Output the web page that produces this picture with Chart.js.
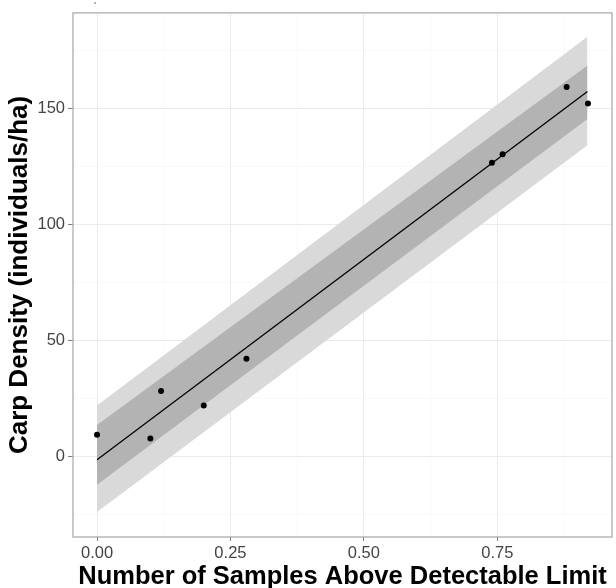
<!DOCTYPE html>
<html>
<head>
<meta charset="utf-8">
<script src="https://cdn.jsdelivr.net/npm/chart.js@4.4.1/dist/chart.umd.min.js"></script>
<style>
  html, body { margin: 0; padding: 0; background: #fff; }
  #wrap { width: 616px; height: 588px; position: relative; }
</style>
</head>
<body>
<div id="wrap"><canvas id="carpChart"></canvas></div>
<script>
// observed samples
const sampleX = [0.00, 0.10, 0.12, 0.20, 0.28, 0.74, 0.76, 0.88, 0.92];
const sampleY = [9.3, 7.7, 28.2, 21.9, 42.1, 126.6, 130.3, 159.3, 152.1];

// fitted line and bands, ends at x = 0 and x = 0.919
const fitX = [0, 0.919];
const fitY = [-1.5, 157.3];
const innerUpper = [13.5, 168.5];
const innerLower = [-12.3, 145.5];
const outerUpper = [21.9, 180.9];
const outerLower = [-24.0, 134.1];

// axis ticks
const xMajor = [0, 0.25, 0.5, 0.75];
const xMinor = [0.125, 0.375, 0.625, 0.875];
const yMajor = [0, 50, 100, 150];
const yMinor = [-25, 25, 75, 125, 175];

const toPts = (xs, ys) => xs.map((x, i) => ({ x: x, y: ys[i] }));

function setTicks(major, minor) {
    return function (scale) {
        const all = major.concat(minor).filter(v => v >= scale.min && v <= scale.max);
        all.sort((a, b) => a - b);
        scale.ticks = all.map(v => ({ value: v, major: major.includes(v) }));
    };
}

const gridColor = ctx => (ctx.tick && ctx.tick.major) ? '#EBEBEB' : '#F5F5F5';
const tickColor = ctx => (ctx.tick && ctx.tick.major) ? '#7f7f7f' : 'rgba(0,0,0,0)';

// grey frame around the panel plus the little stray mark at the top
const framePlugin = {
    id: 'frame',
    afterDatasetsDraw(chart) {
        const a = chart.chartArea;
        const ctx = chart.ctx;
        ctx.save();
        ctx.strokeStyle = '#a6a6a6';
        ctx.lineWidth = 1.2;
        ctx.strokeRect(a.left, a.top, a.right - a.left, a.bottom - a.top);
        ctx.fillStyle = '#000';
        ctx.font = '9px "Liberation Sans", Arial, sans-serif';
        ctx.textAlign = 'center';
        ctx.textBaseline = 'top';
        ctx.fillText('\u02CA', 95, 2);
        ctx.restore();
    }
};

const ctx = document.getElementById('carpChart').getContext('2d');
new Chart(ctx, {
    type: 'scatter',
    data: {
        datasets: [
            {
                label: 'outer upper',
                data: toPts(fitX, outerUpper),
                showLine: true,
                borderWidth: 0,
                pointRadius: 0,
                backgroundColor: '#D9D9D9',
                fill: 1,
                order: 4
            },
            {
                label: 'outer lower',
                data: toPts(fitX, outerLower),
                showLine: true,
                borderWidth: 0,
                pointRadius: 0,
                fill: false,
                order: 5
            },
            {
                label: 'inner upper',
                data: toPts(fitX, innerUpper),
                showLine: true,
                borderWidth: 0,
                pointRadius: 0,
                backgroundColor: '#B3B3B3',
                fill: 3,
                order: 2
            },
            {
                label: 'inner lower',
                data: toPts(fitX, innerLower),
                showLine: true,
                borderWidth: 0,
                pointRadius: 0,
                fill: false,
                order: 3
            },
            {
                label: 'fit',
                data: toPts(fitX, fitY),
                showLine: true,
                borderColor: '#000',
                borderWidth: 1.3,
                pointRadius: 0,
                fill: false,
                order: 1
            },
            {
                label: 'samples',
                data: toPts(sampleX, sampleY),
                showLine: false,
                pointRadius: 3,
                pointBackgroundColor: '#000',
                pointBorderWidth: 0,
                order: 0
            }
        ]
    },
    options: {
        responsive: true,
        maintainAspectRatio: false,
        animation: false,
        layout: { padding: { top: 11, right: 3, left: 0, bottom: 0 } },
        plugins: {
            legend: { display: false },
            tooltip: { enabled: false }
        },
        scales: {
            x: {
                type: 'linear',
                min: -0.045,
                max: 0.965,
                afterBuildTicks: setTicks(xMajor, xMinor),
                afterFit: s => { s.height = 51; },
                border: { display: false },
                grid: { color: gridColor, tickColor: tickColor, tickLength: 4, lineWidth: ctx => (ctx.tick && ctx.tick.major) ? 1 : 0.6 },
                ticks: {
                    autoSkip: false,
                    maxRotation: 0,
                    padding: 3,
                    color: '#444',
                    font: { family: '"Liberation Sans", Arial, sans-serif', size: 16.5 },
                    callback: v => xMajor.includes(v) ? v.toFixed(2) : ''
                },
                title: {
                    display: true,
                    text: 'Number of Samples Above Detectable Limit',
                    color: '#000',
                    padding: { top: 0, bottom: -4.5 },
                    font: { family: '"Liberation Sans", Arial, sans-serif', size: 25.5, weight: 'bold' }
                }
            },
            y: {
                type: 'linear',
                min: -34.8,
                max: 191.2,
                afterBuildTicks: setTicks(yMajor, yMinor),
                afterFit: s => { s.width = 73; },
                border: { display: false },
                grid: { color: gridColor, tickColor: tickColor, tickLength: 5, lineWidth: ctx => (ctx.tick && ctx.tick.major) ? 1 : 0.6 },
                ticks: {
                    autoSkip: false,
                    padding: 3,
                    color: '#444',
                    font: { family: '"Liberation Sans", Arial, sans-serif', size: 16.5 },
                    callback: v => yMajor.includes(v) ? String(v) : ''
                },
                title: {
                    display: true,
                    text: 'Carp Density (individuals/ha)',
                    color: '#000',
                    padding: { top: 4, bottom: 0 },
                    font: { family: '"Liberation Sans", Arial, sans-serif', size: 26, weight: 'bold' }
                }
            }
        }
    },
    plugins: [framePlugin]
});
</script>
</body>
</html>
